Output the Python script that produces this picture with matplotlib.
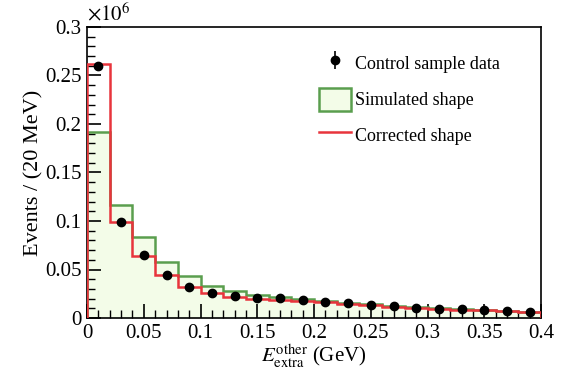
import numpy as np
import matplotlib
matplotlib.use('Agg')
import matplotlib.pyplot as plt
from matplotlib.ticker import MultipleLocator, FuncFormatter
from matplotlib.patches import Patch
from matplotlib.lines import Line2D

# bin edges in GeV (20 MeV bins)
bin_edges = [0.00, 0.02, 0.04, 0.06, 0.08, 0.10, 0.12, 0.14, 0.16, 0.18, 0.20,
             0.22, 0.24, 0.26, 0.28, 0.30, 0.32, 0.34, 0.36, 0.38, 0.40]

# values in units of 10^6 events
data_vals = [0.260, 0.099, 0.065, 0.044, 0.032, 0.026, 0.023, 0.021, 0.0203, 0.0186,
             0.0168, 0.0150, 0.0134, 0.0120, 0.0106, 0.0096, 0.0090, 0.0080, 0.0069, 0.0062]
data_errs = [0.0008, 0.0005, 0.0004, 0.0003, 0.0003, 0.0003, 0.0003, 0.0003, 0.0003, 0.0003,
             0.0003, 0.0003, 0.0002, 0.0002, 0.0002, 0.0002, 0.0002, 0.0002, 0.0002, 0.0002]
sim_vals = [0.192, 0.1165, 0.084, 0.058, 0.0433, 0.0333, 0.0278, 0.024, 0.0215, 0.0195,
            0.0175, 0.0157, 0.0140, 0.0125, 0.0111, 0.0100, 0.0092, 0.0082, 0.0072, 0.0065]
corr_vals = [0.262, 0.0993, 0.064, 0.044, 0.0323, 0.0255, 0.022, 0.020, 0.019, 0.0177,
             0.0160, 0.0145, 0.0130, 0.0117, 0.0104, 0.0094, 0.0087, 0.0078, 0.0068, 0.0061]

plt.rcParams['font.family'] = ['Liberation Serif', 'DejaVu Serif']
plt.rcParams['mathtext.fontset'] = 'stix'

fig = plt.figure(figsize=(5.69, 3.75), dpi=100)
ax = fig.add_axes([0.153, 0.152, 0.798, 0.776])

edges = np.array(bin_edges)
centers = 0.5 * (edges[:-1] + edges[1:])

ax.stairs(sim_vals, edges, fill=True, color='#f3fce8', zorder=1)
ax.stairs(sim_vals, edges, color='#5a9e4e', lw=1.8, zorder=2)
ax.stairs(corr_vals, edges, color='#e8343c', lw=1.8, zorder=3)
ax.errorbar(centers, data_vals, yerr=data_errs, fmt='o', color='black', ms=6,
            capsize=3, elinewidth=1.2, zorder=4)

# legend with proxy artists
h_data = ax.errorbar([], [], yerr=[], fmt='o', color='black', ms=6, capsize=3,
                     elinewidth=1.2, capthick=1.2)
h_sim = Patch(facecolor='#f3fce8', edgecolor='#5a9e4e', lw=1.8)
h_corr = Line2D([], [], color='#e8343c', lw=1.8)
ax.legend([h_data, h_sim, h_corr], ['Control sample data', 'Simulated shape', 'Corrected shape'],
          loc='upper left', bbox_to_anchor=(0.475, 0.971), frameon=False, fontsize=13,
          handlelength=1.75, handleheight=1.6, labelspacing=0.7, handletextpad=0.25)

ax.set_xlim(0, 0.4)
ax.set_ylim(0, 0.3)
ax.xaxis.set_major_locator(MultipleLocator(0.05))
ax.xaxis.set_minor_locator(MultipleLocator(0.01))
ax.yaxis.set_major_locator(MultipleLocator(0.05))
ax.yaxis.set_minor_locator(MultipleLocator(0.01))
fmt = FuncFormatter(lambda v, p: '0' if abs(v) < 1e-9 else ('%g' % round(v, 3)))
ax.xaxis.set_major_formatter(fmt)
ax.yaxis.set_major_formatter(fmt)
ax.tick_params(which='both', direction='in', top=False, right=False, labelsize=15)
ax.tick_params(which='major', length=10, width=1.2, pad=4)
ax.tick_params(which='minor', length=6, width=1.0)
for s in ax.spines.values():
    s.set_linewidth(1.2)

ax.set_xlabel(r'$E_{\mathrm{extra}}^{\mathrm{other}}$ (GeV)', fontsize=15, labelpad=0)
ax.set_ylabel('Events / (20 MeV)', fontsize=16, labelpad=1)
ax.text(0.0, 1.005, r'$\times10^{6}$', transform=ax.transAxes, fontsize=15,
        ha='left', va='bottom')

fig.savefig('out.png', dpi=100)
